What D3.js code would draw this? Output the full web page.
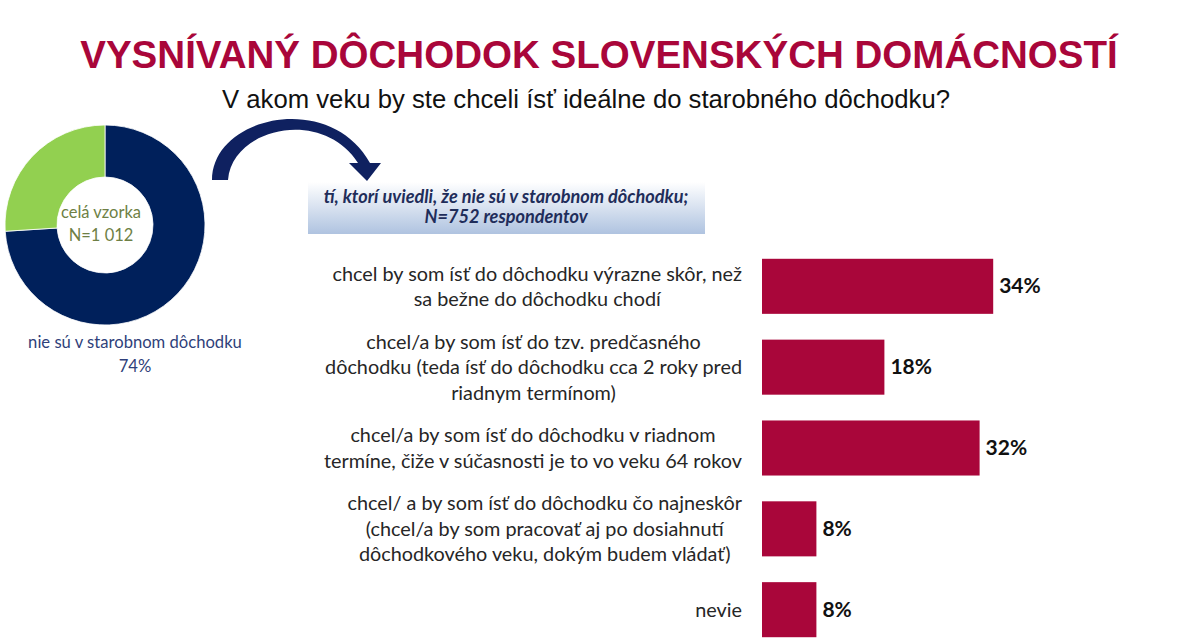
<!DOCTYPE html>
<html>
<head>
<meta charset="utf-8">
<script src="https://cdn.jsdelivr.net/npm/d3@7/dist/d3.min.js"></script>
<style>
  html, body { margin: 0; padding: 0; background: #fff; }
  svg { display: block; }
</style>
</head>
<body>
<svg id="chart" width="1200" height="640"></svg>
<script>
// ---- data ----
const titleText = "VYSNÍVANÝ DÔCHODOK SLOVENSKÝCH DOMÁCNOSTÍ";
const subtitleText = "V akom veku by ste chceli ísť ideálne do starobného dôchodku?";
const donutLabels = ["nie sú v starobnom dôchodku", "sú v starobnom dôchodku"];
const donutValues = [74, 26];
const donutCenterText = ["celá vzorka", "N=1 012"];
const subsetNote = ["tí, ktorí uviedli, že nie sú v starobnom dôchodku;", "N=752 respondentov"];
const categories = [
  ["chcel by som ísť do dôchodku výrazne skôr, než", "sa bežne do dôchodku chodí"],
  ["chcel/a by som ísť do tzv. predčasného", "dôchodku (teda ísť do dôchodku cca 2 roky pred", "riadnym termínom)"],
  ["chcel/a by som ísť do dôchodku v riadnom", "termíne, čiže v súčasnosti je to vo veku 64 rokov"],
  ["chcel/ a by som ísť do dôchodku čo najneskôr", "(chcel/a by som pracovať aj po dosiahnutí", "dôchodkového veku, dokým budem vládať)"],
  ["nevie"]
];
const values = [34, 18, 32, 8, 8];

// ---- drawing ----
const svg = d3.select("#chart");
const crimson = "#A9063A";
const navy = "#0F2160";
const sans = "Lato, 'Open Sans', sans-serif";

function fitSize(sel, base, target) {
  const w = sel.node().getComputedTextLength();
  sel.attr("font-size", base * target / w);
  return base * target / w;
}

// title
const title = svg.append("text")
  .attr("x", 599).attr("y", 68)
  .attr("text-anchor", "middle")
  .attr("font-family", "Liberation Sans, Arial, sans-serif")
  .attr("font-weight", "bold")
  .attr("font-size", 42)
  .attr("fill", crimson)
  .text(titleText);
fitSize(title, 42, 1038);

const sub = svg.append("text")
  .attr("x", 586).attr("y", 108)
  .attr("text-anchor", "middle")
  .attr("font-family", "Liberation Sans, Arial, sans-serif")
  .attr("font-size", 24)
  .attr("fill", "#111")
  .text(subtitleText);
fitSize(sub, 24, 728);

// donut
const pie = d3.pie().sort(null).value(d => d);
const arc = d3.arc().innerRadius(48).outerRadius(100);
const donutColors = ["#00205B", "#92D050"];
const dg = svg.append("g").attr("transform", "translate(105,225)");
dg.selectAll("path").data(pie(donutValues)).join("path")
  .attr("d", arc)
  .attr("fill", (d, i) => donutColors[i])
  .attr("stroke", "#fff").attr("stroke-width", 0.8);
dg.selectAll("text.c").data(donutCenterText).join("text")
  .attr("class", "c")
  .attr("x", -4).attr("y", (d, i) => -7 + i * 23)
  .attr("text-anchor", "middle")
  .attr("font-family", sans)
  .attr("font-size", 16.5)
  .attr("fill", "#6E7F45")
  .text(d => d);

const donutLabelLines = [donutLabels[0], donutValues[0] + "%"];
const dl = svg.selectAll("text.dl").data(donutLabelLines).join("text")
  .attr("class", "dl")
  .attr("x", 135).attr("y", (d, i) => 348 + i * 24)
  .attr("text-anchor", "middle")
  .attr("font-family", sans)
  .attr("font-size", 15.5)
  .attr("fill", "#2F3F7A")
  .text(d => d);
{
  const f = fitSize(dl.filter((d, i) => i === 0), 15.5, 214);
  dl.attr("font-size", f);
}

// curved arrow
svg.append("path")
  .attr("d", "M212,180 C212,116 330,90 370,163 L381,163 L367,181 L349,163 L358,163 C322,107 232,128 228,180 Z")
  .attr("fill", navy);

// note box
const defs = svg.append("defs");
const grad = defs.append("linearGradient").attr("id", "boxg")
  .attr("x1", 0).attr("y1", 0).attr("x2", 0).attr("y2", 1);
grad.append("stop").attr("offset", "0%").attr("stop-color", "#FFFFFF");
grad.append("stop").attr("offset", "100%").attr("stop-color", "#AFC3E0");
svg.append("rect")
  .attr("x", 308).attr("y", 182).attr("width", 397).attr("height", 52)
  .attr("fill", "url(#boxg)");
const note = svg.selectAll("text.note").data(subsetNote).join("text")
  .attr("class", "note")
  .attr("x", 506).attr("y", (d, i) => 203 + i * 20)
  .attr("text-anchor", "middle")
  .attr("font-family", sans)
  .attr("font-weight", "bold")
  .attr("font-style", "italic")
  .attr("font-size", 14.5)
  .attr("fill", "#1F2D5A")
  .text(d => d);
{
  const f = fitSize(note.filter((d, i) => i === 0), 14.5, 365);
  note.attr("font-size", f);
}

// bars
const x = d3.scaleLinear().domain([0, 100]).range([762, 762 + 680]);
const y = d3.scaleBand().domain(d3.range(values.length)).range([233, 663]).padding(0.319);

svg.selectAll("rect.bar").data(values).join("rect")
  .attr("class", "bar")
  .attr("x", x(0))
  .attr("y", (d, i) => y(i))
  .attr("width", d => x(d) - x(0))
  .attr("height", y.bandwidth())
  .attr("fill", crimson);

svg.selectAll("text.val").data(values).join("text")
  .attr("class", "val")
  .attr("x", d => x(d) + 6)
  .attr("y", (d, i) => y(i) + y.bandwidth() / 2 + 7)
  .attr("font-family", sans)
  .attr("font-weight", "bold")
  .attr("font-size", 21)
  .attr("fill", "#111")
  .text(d => d + "%");

// category labels
let fs = 18;
{
  const t = svg.append("text").attr("font-family", sans).attr("font-size", 18).text(categories[0][0]);
  fs = 18 * 410 / t.node().getComputedTextLength();
  t.remove();
}
const lineH = 25.5;
categories.forEach((lines, i) => {
  const g = svg.append("g");
  const texts = g.selectAll("text").data(lines).join("text")
    .attr("font-family", sans)
    .attr("font-size", fs)
    .attr("fill", "#262626")
    .attr("text-anchor", "middle")
    .text(d => d);
  let maxW = 0;
  texts.each(function () { maxW = Math.max(maxW, this.getComputedTextLength()); });
  const cx = 742 - maxW / 2;
  const cy = y(i) + y.bandwidth() / 2;
  const n = lines.length;
  texts.attr("x", cx)
    .attr("y", (d, k) => cy + (k - (n - 1) / 2) * lineH + fs * 0.35);
});
</script>
</body>
</html>
